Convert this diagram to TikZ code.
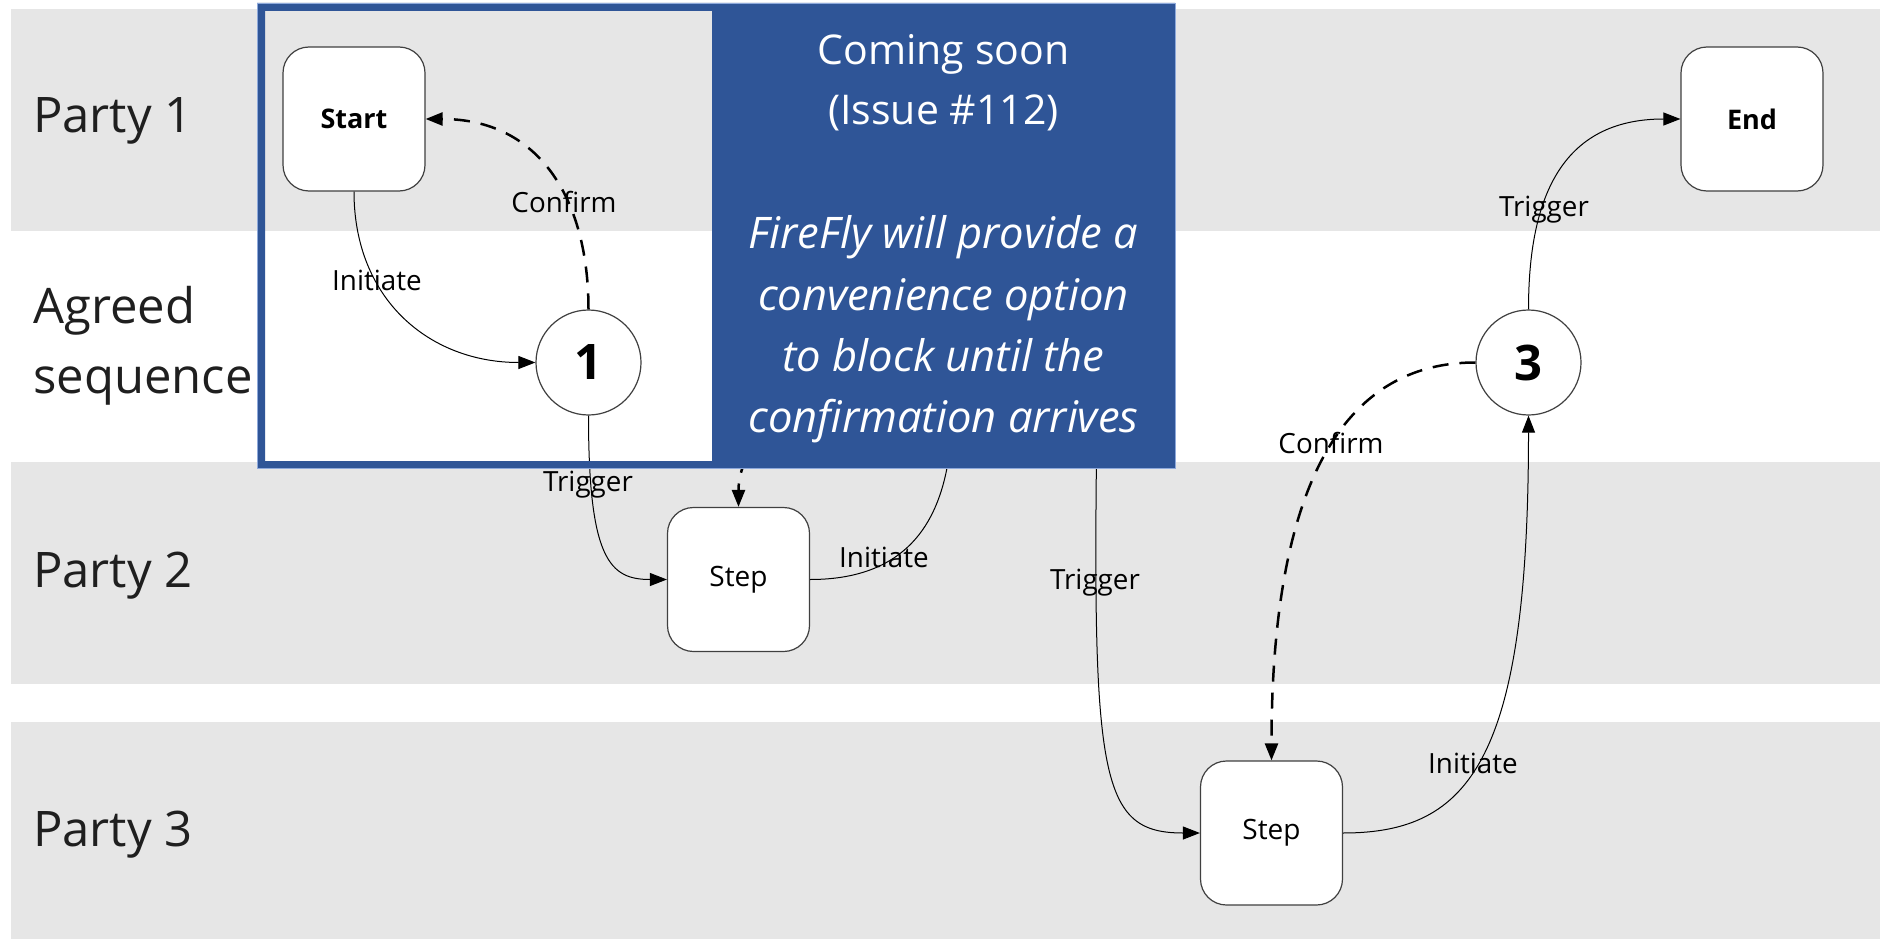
\documentclass[tikz,border=0pt]{standalone}
\usepackage{fontspec}
\setmainfont{Open Sans}
\usetikzlibrary{arrows.meta}

\definecolor{lane}{HTML}{E6E6E6}
\definecolor{notebg}{HTML}{2F5597}
\definecolor{noteedge}{HTML}{8EA9DB}
\definecolor{ink}{HTML}{1F1F1F}
\definecolor{boxline}{HTML}{404040}

\tikzset{
  lanebg/.style={fill=lane},
  lanelabel/.style={anchor=base west, text=ink, inner sep=0pt,
    font=\fontsize{49}{58}\selectfont},
  stepbox/.style={draw=boxline, line width=1.2pt, fill=white,
    rounded corners=26pt, minimum width=142pt, minimum height=144pt,
    inner sep=0pt, font=\fontsize{28}{33}\selectfont},
  endpoint/.style={stepbox, font=\fontsize{27}{32}\selectfont\bfseries},
  seqcircle/.style={circle, draw=boxline, line width=1.2pt, fill=white,
    minimum size=105pt, inner sep=0pt, font=\fontsize{49}{58}\selectfont\bfseries},
  flow/.style={draw=black, line width=1pt, -{Triangle[length=17pt,width=13pt]}},
  reply/.style={flow, line width=2.5pt, dash pattern=on 16pt off 11pt},
  lbl/.style={font=\fontsize{27.8}{32}\selectfont, text=black, inner sep=0pt},
  notetext/.style={anchor=base, text=white, inner sep=0pt,
    font=\fontsize{41}{50}\selectfont},
  notebody/.style={notetext, font=\fontsize{43.5}{52}\selectfont\itshape},
}

\begin{document}
\begin{tikzpicture}[x=1pt,y=-1pt]
\useasboundingbox (0,0) rectangle (1880,939);
\fill[white] (0,0) rectangle (1880,939);

% swim lanes
\fill[lanebg] (11,9)   rectangle (1880,231);
\fill[lanebg] (11,462) rectangle (1880,684);
\fill[lanebg] (11,722) rectangle (1880,939);

\node[lanelabel] (party1) at (33,133) {Party 1};
\node[lanelabel] (agreed) at (33,323) {Agreed};
\node[lanelabel] (sequence) at (33,393) {sequence};
\node[lanelabel] (party2) at (33,587) {Party 2};
\node[lanelabel] (party3) at (33,846) {Party 3};

% states
\node[endpoint] (start) at (354,119) {Start};
\node[endpoint] (end) at (1752,119) {End};
\node[stepbox] (step2) at (738.5,579.5) {Step};
\node[stepbox] (step3) at (1271.5,833) {Step};
\node[seqcircle] (s1) at (588.5,362.5) {1};
\node[seqcircle] (s3) at (1528.5,362.5) {3};

% second sequence point, under the note
\coordinate (s2w) at (1044,362);
\coordinate (s2s) at (1097,415);

% transitions
\draw[flow] (start.south) .. controls (354,300) and (430,362.5) .. (s1.west)
  node[lbl, at={(377,280)}] {Initiate};
\draw[reply] (s1.north) .. controls (588.5,200) and (540,119) .. (start.east)
  node[lbl, at={(564,202)}] {Confirm};
\draw[flow] (s1.south) .. controls (588.5,560) and (610,579.5) .. (step2.west)
  node[lbl, at={(588,485)}] {Trigger};

\draw[flow] (step2.east) .. controls (900,579.5) and (935,530) .. (947,468)
  .. controls (960,420) and (990,362) .. (s2w)
  node[lbl, at={(884,557)}] {Initiate};
\draw[reply] (s2w) .. controls (850,362) and (738.5,420) .. (step2.north);
\draw[flow] (s2s) .. controls (1092,780) and (1100,833) .. (step3.west)
  node[lbl, at={(1095,583)}] {Trigger};

\draw[flow] (step3.east) .. controls (1470,833) and (1528.5,760) .. (s3.south)
  node[lbl, at={(1473,763)}] {Initiate};
\draw[reply] (s3.west) .. controls (1370,362.5) and (1271.5,440) .. (step3.north)
  node[lbl, at={(1331,443)}] {Confirm};
\draw[flow] (s3.north) .. controls (1528.5,200) and (1560,119) .. (end.west)
  node[lbl, at={(1544,210)}] {Trigger};

% note overlay with a see-through window on its left
\fill[notebg, even odd rule] (257,3) rectangle (1175,468) (265,11) rectangle (712,461);
\draw[noteedge, line width=0.8pt] (257,3) rectangle (1175,468);

\node[notetext] (soon) at (943.5,65) {Coming soon};
\node[notetext] (issue) at (943.5,125) {(Issue \#112)};
\node[notebody] (line1) at (943.5,248) {FireFly will provide a};
\node[notebody] (line2) at (943.5,310) {convenience option};
\node[notebody] (line3) at (943.5,371) {to block until the};
\node[notebody] (line4) at (943.5,432) {confirmation arrives};
\end{tikzpicture}
\end{document}
